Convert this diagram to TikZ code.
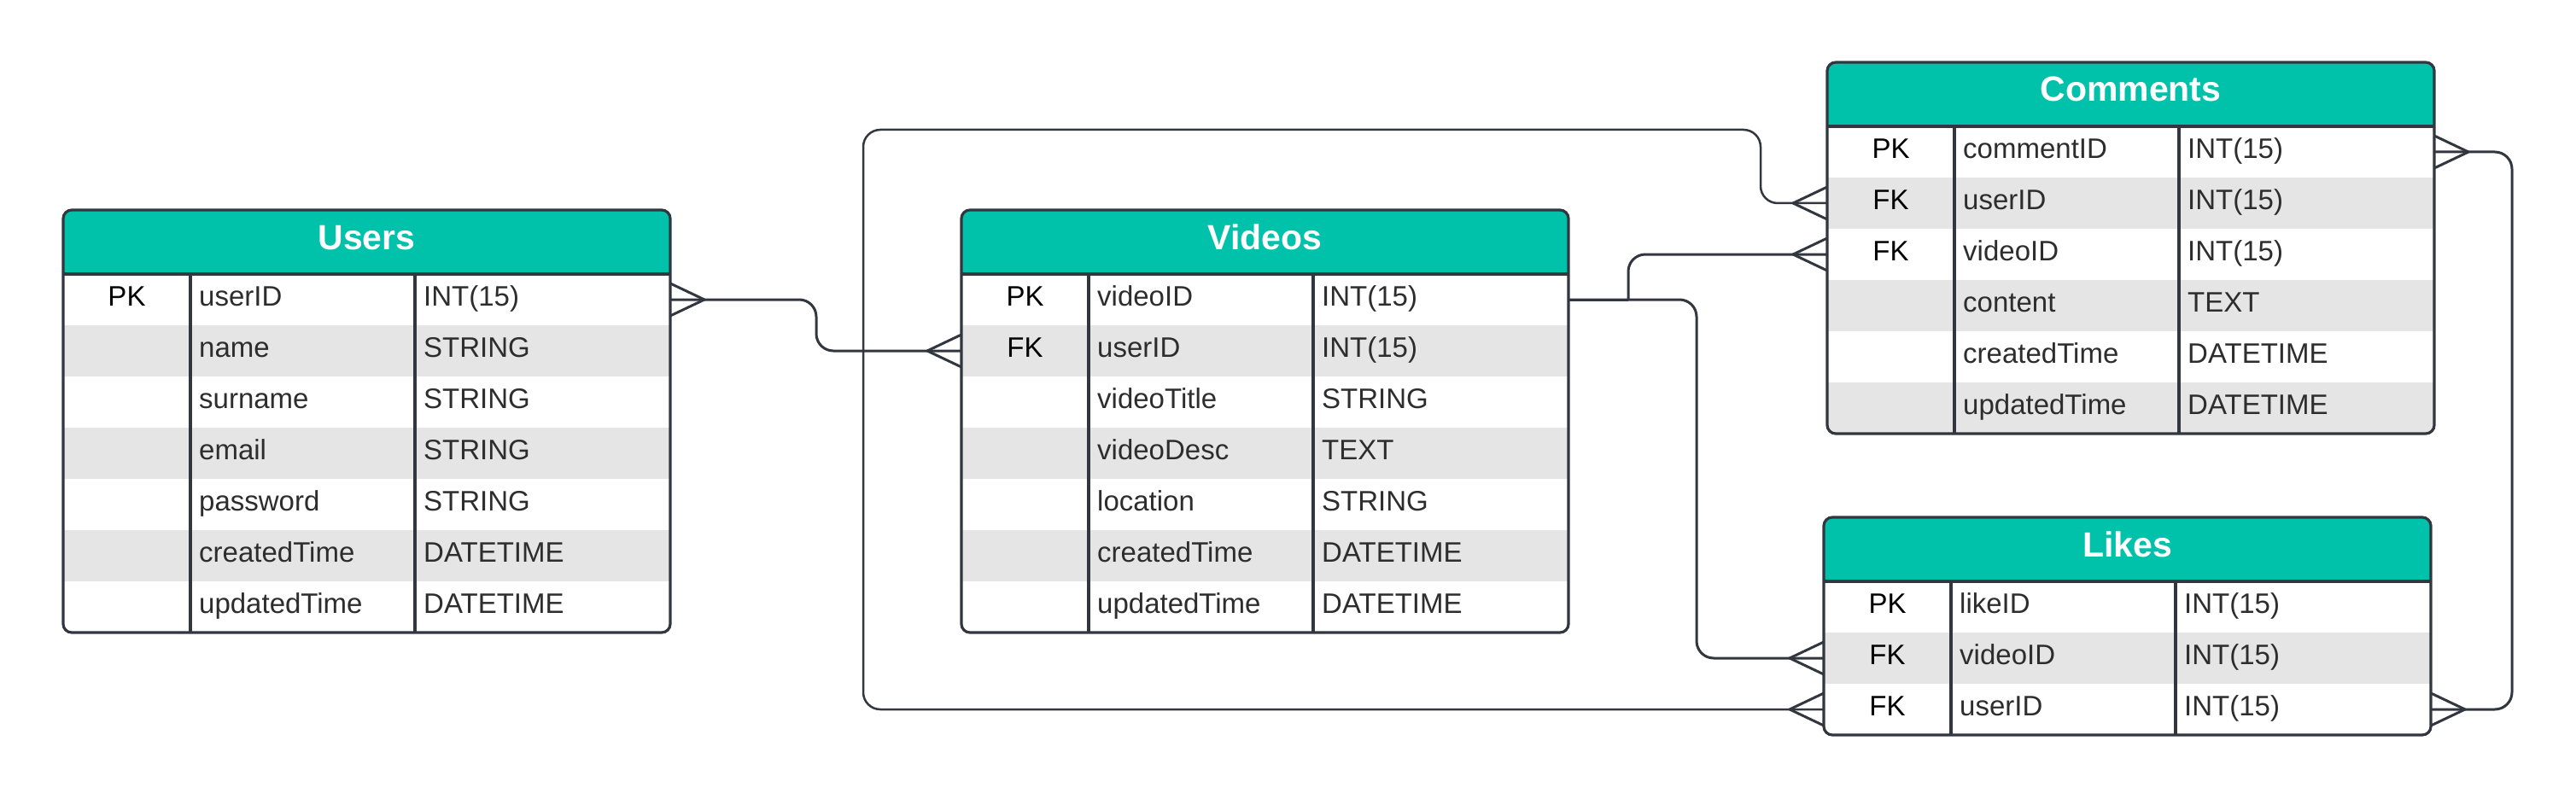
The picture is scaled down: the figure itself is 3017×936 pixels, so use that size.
\documentclass[tikz,border=0pt]{standalone}
\usepackage{fontspec}
\setmainfont{Liberation Sans}
\usetikzlibrary{calc}
\definecolor{hdrteal}{RGB}{0,193,169}
\definecolor{rowgray}{RGB}{229,229,229}
\definecolor{edgec}{RGB}{50,55,63}
\definecolor{txtc}{RGB}{45,45,45}
\tikzset{
  conn/.style={draw=edgec, line width=3pt, line join=round},
  tborder/.style={draw=edgec, line width=3.2pt},
  hdrtext/.style={text=white, font=\fontsize{41}{48}\selectfont\bfseries, anchor=base, inner sep=0pt},
  keytext/.style={text=black, font=\fontsize{33}{39}\selectfont, anchor=base, inner sep=0pt},
  fldtext/.style={text=txtc, font=\fontsize{33}{39}\selectfont, anchor=base west, inner sep=0pt},
  rowbox/.style={minimum width=711pt, minimum height=60pt, inner sep=0pt, outer sep=0pt, draw=none},
}
% #1 name, #2 x, #3 y, #4 title, #5 nrows, #6 rows
\newcommand\ertable[6]{%
  \pgfmathsetmacro\tbh{75+60*#5}
  \begin{scope}
    \clip[rounded corners=10pt] (#2,#3) rectangle ++(711,\tbh);
    \fill[hdrteal] (#2,#3) rectangle ++(711,75);
    \foreach [count=\i] \colA/\colB/\colC in {#6} {
      \pgfmathsetmacro\ry{#3+75+60*(\i-1)}
      \ifodd\i\else \fill[rowgray] (#2,\ry) rectangle ++(711,60);\fi
    }
  \end{scope}
  \draw[tborder, rounded corners=10pt] (#2,#3) rectangle ++(711,\tbh);
  \draw[tborder, line width=3.6pt] (#2,#3+75) -- ++(711,0);
  \draw[tborder] (#2+149,#3+75) -- ++(0,60*#5);
  \draw[tborder] (#2+412,#3+75) -- ++(0,60*#5);
  \node[hdrtext] (#1) at (#2+355.5,#3+46) {#4};
  \foreach [count=\i] \colA/\colB/\colC in {#6} {
    \pgfmathsetmacro\ry{#3+75+60*(\i-1)}
    \node[rowbox] (#1-\i) at (#2+355.5,\ry+30) {};
    \node[keytext] (#1-\i-k) at (#2+74.5,\ry+37.5) {\colA};
    \node[fldtext] (#1-\i-f) at (#2+159,\ry+37.5) {\colB};
    \node[fldtext] (#1-\i-t) at (#2+422,\ry+37.5) {\colC};
  }
}
\newcommand\crowR[1]{\draw[conn] ([yshift=19pt]#1) -- ([xshift=40pt]#1) -- ([yshift=-19pt]#1);}
\newcommand\crowL[1]{\draw[conn] ([yshift=19pt]#1) -- ([xshift=-40pt]#1) -- ([yshift=-19pt]#1);}
\begin{document}
\begin{tikzpicture}[x=1pt,y=-1pt]
\useasboundingbox (0,0) rectangle (3017,936);
\fill[white] (0,0) rectangle (3017,936);

\ertable{users}{74}{246}{Users}{7}{PK/userID/INT(15), /name/STRING, /surname/STRING, /email/STRING, /password/STRING, /createdTime/DATETIME, /updatedTime/DATETIME}
\ertable{videos}{1126}{246}{Videos}{7}{PK/videoID/INT(15), FK/userID/INT(15), /videoTitle/STRING, /videoDesc/TEXT, /location/STRING, /createdTime/DATETIME, /updatedTime/DATETIME}
\ertable{comments}{2140}{73}{Comments}{6}{PK/commentID/INT(15), FK/userID/INT(15), FK/videoID/INT(15), /content/TEXT, /createdTime/DATETIME, /updatedTime/DATETIME}
\ertable{likes}{2136}{606}{Likes}{3}{PK/likeID/INT(15), FK/videoID/INT(15), FK/userID/INT(15)}

\coordinate (loopTR) at (2062,152);
\coordinate (loopBL) at (1011,831);

% Users.userID -- Videos.userID
\draw[conn, rounded corners=20pt] (users-1.east) -- ++(171,0) |- (videos-2.west);
\crowR{users-1.east}
\crowL{videos-2.west}

% Comments.userID -- Likes.userID (outer loop)
\draw[conn, line width=2.5pt, rounded corners=20pt] (comments-2.west) -| (loopTR) -| (loopBL) -- (likes-3.west);
\crowL{comments-2.west}
\crowL{likes-3.west}

% Videos.videoID -- Comments.videoID
\draw[conn] (videos-1.east) -- ++(70,0) coordinate (cj);
\draw[conn, rounded corners=20pt] (cj) |- (comments-3.west);
\crowL{comments-3.west}

% Videos.videoID -- Likes.videoID
\draw[conn, rounded corners=20pt] (videos-1.east) -- ++(150,0) |- (likes-2.west);
\crowL{likes-2.west}

% Comments.commentID -- Likes.userID
\draw[conn, rounded corners=20pt] (comments-1.east) -- ++(91,0) |- (likes-3.east);
\crowR{comments-1.east}
\crowR{likes-3.east}
\end{tikzpicture}
\end{document}
